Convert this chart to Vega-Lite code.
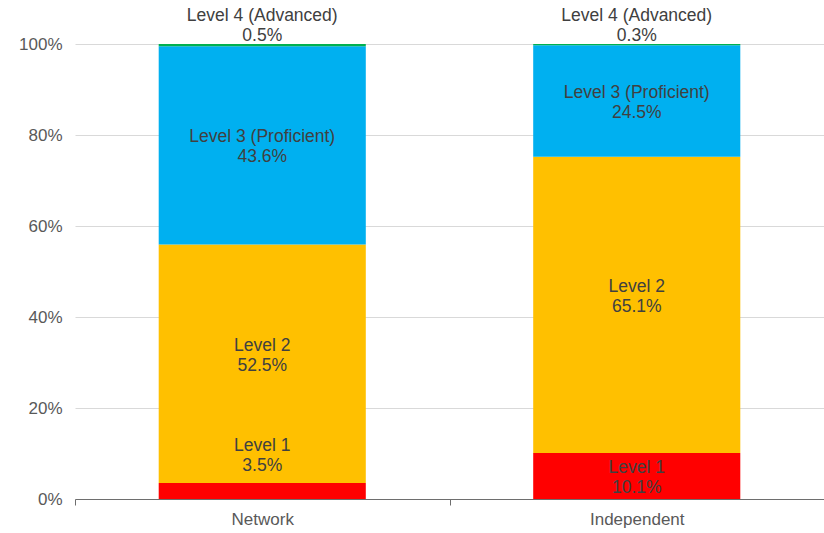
{
  "$schema": "https://vega.github.io/schema/vega-lite/v6.json",
  "width": 749,
  "height": 455,
  "autosize": {"type": "none"},
  "padding": {"left": 75, "top": 44, "right": 0, "bottom": 34},
  "background": "white",
  "config": {"view": {"stroke": null}, "font": "Liberation Sans"},
  "data": {
    "values": [
      {"school": "Network", "level": "Level 1", "value": 3.5},
      {"school": "Network", "level": "Level 2", "value": 52.5},
      {"school": "Network", "level": "Level 3 (Proficient)", "value": 43.6},
      {"school": "Network", "level": "Level 4 (Advanced)", "value": 0.5},
      {"school": "Independent", "level": "Level 1", "value": 10.1},
      {"school": "Independent", "level": "Level 2", "value": 65.1},
      {"school": "Independent", "level": "Level 3 (Proficient)", "value": 24.5},
      {"school": "Independent", "level": "Level 4 (Advanced)", "value": 0.3}
    ]
  },
  "transform": [
    {"stack": "value", "groupby": ["school"], "sort": [{"field": "level", "order": "ascending"}], "offset": "normalize", "as": ["v0", "v1"]},
    {"calculate": "datum.level === 'Level 4 (Advanced)' ? 1.043 : (datum.school === 'Network' && datum.level === 'Level 1') ? 0.098 : datum.level === 'Level 2' ? (datum.v0 + datum.v1) / 2 + 0.022 : (datum.v0 + datum.v1) / 2", "as": "labelY"},
    {"calculate": "[datum.level, format(datum.value, '.1f') + '%']", "as": "lines"}
  ],
  "encoding": {
    "x": {
      "field": "school",
      "type": "nominal",
      "sort": ["Network", "Independent"],
      "scale": {"paddingInner": 0, "paddingOuter": 0},
      "axis": {
        "title": null,
        "labelAngle": 0,
        "labelFontSize": 17,
        "labelColor": "#595959",
        "labelPadding": 6,
        "domainColor": "#6e6e6e",
        "tickColor": "#6e6e6e",
        "tickSize": 6,
        "tickBand": "extent",
        "grid": false
      }
    }
  },
  "layer": [
    {
      "mark": {"type": "bar", "width": {"band": 0.553}},
      "encoding": {
        "y": {
          "field": "v0",
          "type": "quantitative",
          "scale": {"domain": [0, 1], "nice": false},
          "axis": {
            "title": null,
            "format": ".0%",
            "values": [0, 0.2, 0.4, 0.6, 0.8, 1],
            "labelFontSize": 17,
            "labelColor": "#595959",
            "labelPadding": 13,
            "ticks": false,
            "domain": false,
            "grid": true,
            "gridColor": "#d9d9d9",
            "gridWidth": 1
          }
        },
        "y2": {"field": "v1"},
        "color": {
          "field": "level",
          "type": "nominal",
          "scale": {
            "domain": ["Level 1", "Level 2", "Level 3 (Proficient)", "Level 4 (Advanced)"],
            "range": ["#FF0000", "#FFC000", "#00B0F0", "#00B050"]
          },
          "legend": null
        }
      }
    },
    {
      "mark": {"type": "text", "fontSize": 17.5, "lineHeight": 20, "dy": -8, "color": "#404040", "baseline": "middle", "align": "center"},
      "encoding": {
        "y": {"field": "labelY", "type": "quantitative"},
        "text": {"field": "lines"}
      }
    }
  ]
}
